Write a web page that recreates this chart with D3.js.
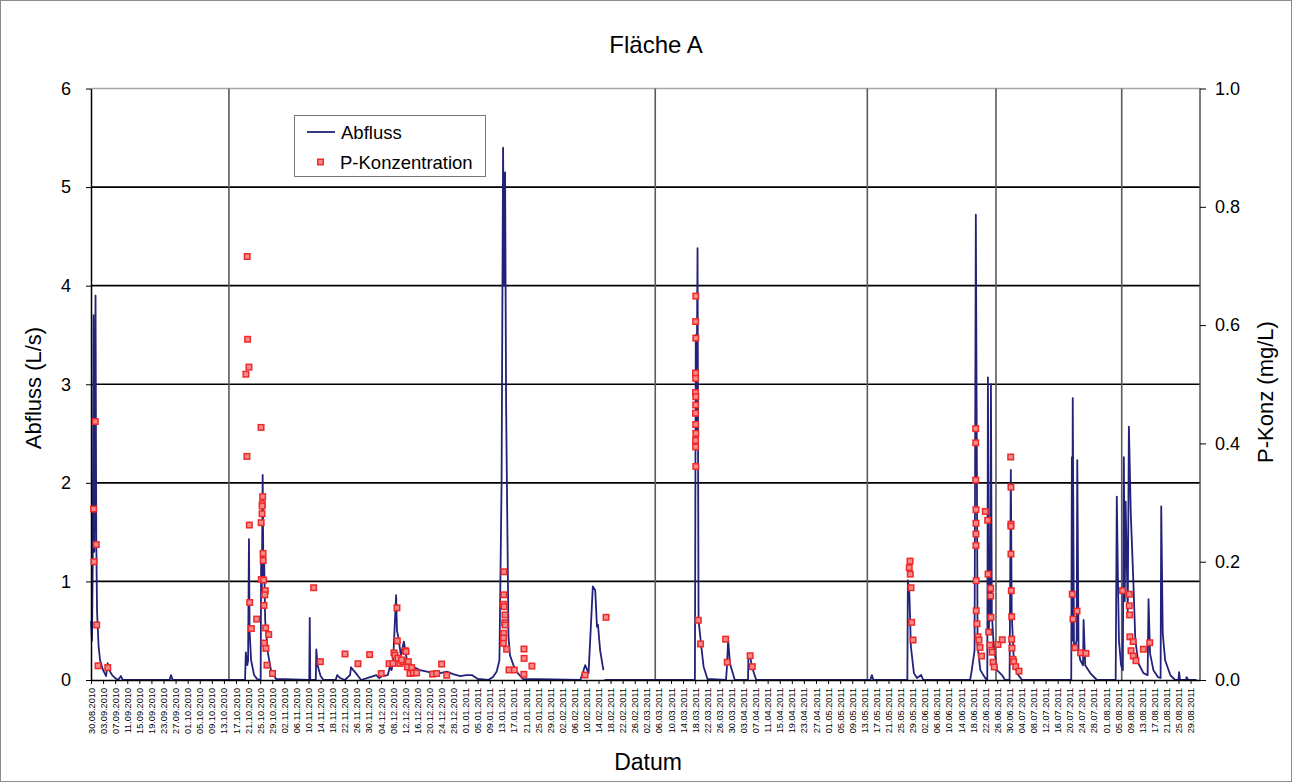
<!DOCTYPE html>
<html>
<head>
<meta charset="utf-8">
<script src="https://cdn.jsdelivr.net/npm/d3@7"></script>
<style>
  body { margin: 0; background: #fff; }
  svg text { font-family: "Liberation Sans", Arial, sans-serif; }
</style>
</head>
<body>
<script>
// Abfluss (L/s), 15-min series: [zeit, wert]
var abfluss = [
  ["2010-08-30T00",0.6],["2010-08-30T08",0.4],["2010-08-30T14",1.2],["2010-08-30T20",3.7],
  ["2010-08-31T02",1.3],["2010-08-31T06",2.0],["2010-08-31T12",3.9],["2010-08-31T18",1.4],
  ["2010-09-01T00",0.7],["2010-09-01T12",0.35],["2010-09-02T00",0.2],["2010-09-03T00",0.1],
  ["2010-09-04T00",0.04],["2010-09-04T12",0.17],["2010-09-05T00",0.1],["2010-09-06T00",0.05],
  ["2010-09-07T00",0.02],["2010-09-08T00",0.0],["2010-09-08T22",0.04],["2010-09-09T12",0.0],
  ["2010-09-25T00",0.0],["2010-09-25T12",0.05],["2010-09-26T00",0.0],
  ["2010-10-20T00",0.0],["2010-10-20T06",0.28],["2010-10-20T18",0.15],["2010-10-21T00",0.2],
  ["2010-10-21T07",1.43],["2010-10-21T12",0.5],["2010-10-22T00",0.2],["2010-10-23T00",0.05],
  ["2010-10-24T00",0.01],["2010-10-25T04",0.0],["2010-10-25T08",1.3],["2010-10-25T13",0.9],
  ["2010-10-25T20",2.08],["2010-10-26T02",1.0],["2010-10-26T08",1.2],["2010-10-26T16",0.6],
  ["2010-10-27T14",0.27],["2010-10-28T14",0.1],["2010-10-30T06",0.01],
  ["2010-11-10T06",0.0],["2010-11-10T10",0.63],["2010-11-10T14",0.0],["2010-11-12T10",0.0],
  ["2010-11-12T14",0.31],["2010-11-13T00",0.15],["2010-11-14T00",0.04],["2010-11-15T00",0.0],
  ["2010-11-19T00",0.0],["2010-11-19T12",0.05],["2010-11-20T12",0.02],["2010-11-22T00",0.0],
  ["2010-11-23T18",0.05],["2010-11-24T02",0.13],["2010-11-24T20",0.1],["2010-11-25T10",0.08],
  ["2010-11-26T10",0.04],["2010-11-27T10",0.0],["2010-11-30T10",0.03],["2010-12-02T10",0.05],
  ["2010-12-03T10",0.02],["2010-12-04T10",0.04],["2010-12-06T06",0.05],["2010-12-06T22",0.13],
  ["2010-12-07T12",0.1],["2010-12-08T00",0.18],["2010-12-09T00",0.86],["2010-12-09T07",0.5],
  ["2010-12-09T17",0.44],["2010-12-10T14",0.25],["2010-12-11T14",0.39],["2010-12-12T14",0.2],
  ["2010-12-14T14",0.135],["2010-12-16T22",0.1],["2010-12-19T05",0.085],["2010-12-21T05",0.07],
  ["2010-12-23T14",0.07],["2010-12-25T19",0.085],["2010-12-27T22",0.06],["2010-12-30T05",0.04],
  ["2011-01-01T05",0.05],["2011-01-03T02",0.05],["2011-01-05T02",0.01],["2011-01-08T12",0.0],
  ["2011-01-10T02",0.03],["2011-01-11T07",0.085],["2011-01-12T05",0.2],["2011-01-12T22",2.0],
  ["2011-01-13T10",5.4],["2011-01-13T18",4.0],["2011-01-14T02",5.15],["2011-01-14T10",2.8],
  ["2011-01-15T05",0.44],["2011-01-15T17",0.25],["2011-01-17T10",0.1],["2011-01-20T00",0.01],
  ["2011-02-08T00",0.0],["2011-02-08T19",0.07],["2011-02-09T14",0.15],["2011-02-10T17",0.07],
  ["2011-02-11T19",0.74],["2011-02-12T03",0.95],["2011-02-12T22",0.91],["2011-02-13T12",0.54],
  ["2011-02-13T20",0.56],["2011-02-14T13",0.3],["2011-02-15T15",0.1],["2011-02-15T16",null],
  ["2011-02-16T00",0.0],["2011-03-17T22",0.0],["2011-03-18T05",3.5],["2011-03-18T10",2.5],
  ["2011-03-18T19",4.38],["2011-03-19T03",0.61],["2011-03-19T22",0.37],["2011-03-20T19",0.135],
  ["2011-03-22T02",0.01],["2011-03-28T05",0.0],["2011-03-28T12",0.12],["2011-03-28T22",0.41],
  ["2011-03-29T12",0.17],["2011-03-31T03",0.0],["2011-04-04T12",0.0],["2011-04-04T15",0.24],
  ["2011-04-05T05",0.24],["2011-04-05T19",0.135],["2011-04-07T05",0.0],
  ["2011-05-15T00",0.0],["2011-05-15T12",0.05],["2011-05-16T00",0.0],["2011-05-27T06",0.0],
  ["2011-05-27T10",1.01],["2011-05-27T22",0.88],["2011-05-28T10",0.34],["2011-05-29T10",0.07],
  ["2011-05-30T10",0.02],["2011-05-31T20",0.05],["2011-06-01T12",0.0],
  ["2011-06-17T00",0.0],["2011-06-17T12",0.085],["2011-06-18T12",0.3],["2011-06-18T22",4.72],
  ["2011-06-19T12",0.34],["2011-06-20T10",0.1],["2011-06-22T00",0.02],["2011-06-22T17",0.0],
  ["2011-06-22T22",3.07],["2011-06-23T06",0.5],["2011-06-23T12",1.3],["2011-06-23T16",0.6],
  ["2011-06-23T22",3.0],["2011-06-24T05",0.68],["2011-06-24T19",0.37],["2011-06-25T22",0.1],
  ["2011-06-27T14",0.05],["2011-06-28T14",0.0],["2011-06-30T02",0.0],["2011-06-30T12",2.13],
  ["2011-06-30T19",0.68],["2011-07-01T10",0.24],["2011-07-02T12",0.07],["2011-07-04T05",0.0],
  ["2011-07-20T12",0.0],["2011-07-20T17",2.26],["2011-07-20T20",0.4],["2011-07-21T00",2.86],
  ["2011-07-21T10",0.3],["2011-07-22T07",0.4],["2011-07-22T12",2.23],["2011-07-22T22",0.3],
  ["2011-07-23T12",0.2],["2011-07-24T10",0.15],["2011-07-24T14",0.61],["2011-07-25T03",0.15],
  ["2011-07-26T19",0.07],["2011-07-29T00",0.0],["2011-08-04T05",0.0],["2011-08-04T14",1.86],
  ["2011-08-04T22",1.11],["2011-08-05T07",0.4],["2011-08-06T00",0.15],["2011-08-06T14",0.1],
  ["2011-08-06T22",2.26],["2011-08-07T05",0.8],["2011-08-07T12",1.81],["2011-08-07T19",1.35],
  ["2011-08-08T05",0.7],["2011-08-08T14",2.57],["2011-08-09T05",1.69],["2011-08-10T02",0.98],
  ["2011-08-10T17",0.41],["2011-08-11T17",0.17],["2011-08-13T10",0.07],["2011-08-14T19",0.05],
  ["2011-08-15T02",0.82],["2011-08-15T14",0.27],["2011-08-16T17",0.1],["2011-08-18T05",0.03],
  ["2011-08-19T02",0.02],["2011-08-19T07",1.76],["2011-08-19T19",0.47],["2011-08-20T14",0.2],
  ["2011-08-22T07",0.05],["2011-08-23T22",0.0],["2011-08-25T00",0.0],["2011-08-25T05",0.08],
  ["2011-08-25T12",0.0],["2011-08-27T12",0.0],["2011-08-27T17",0.03],["2011-08-28T05",0.0],
  ["2011-08-31T00",0.0]
];

// P-Konzentration (mg/L) samples: [zeit, wert]
var pKonz = [
  ["2010-08-31T10",0.437],["2010-08-30T21",0.289],["2010-08-31T18",0.229],["2010-08-31T00",0.200],
  ["2010-08-31T21",0.093],["2010-09-01T08",0.024],["2010-09-04T13",0.021],
  ["2010-10-20T17",0.716],["2010-10-20T20",0.576],["2010-10-21T07",0.529],["2010-10-20T07",0.517],
  ["2010-10-25T07",0.427],["2010-10-20T15",0.378],["2010-10-25T20",0.310],["2010-10-25T17",0.298],
  ["2010-10-25T16",0.294],["2010-10-25T15",0.281],["2010-10-25T08",0.266],["2010-10-21T10",0.262],
  ["2010-10-25T23",0.214],["2010-10-26T00",0.202],["2010-10-25T09",0.170],["2010-10-26T04",0.169],
  ["2010-10-26T17",0.151],["2010-10-26T12",0.144],["2010-10-21T13",0.131],["2010-10-26T06",0.126],
  ["2010-10-23T20",0.103],["2010-10-22T02",0.087],["2010-10-26T20",0.088],["2010-10-27T20",0.077],
  ["2010-10-26T09",0.0625],["2010-10-26T22",0.0535],["2010-10-27T06",0.025],["2010-10-29T02",0.011],
  ["2010-11-11T17",0.156],["2010-11-13T22",0.031],["2010-11-22T02",0.044],["2010-11-26T09",0.0275],
  ["2010-11-30T06",0.043],["2010-12-04T02",0.011],["2010-12-06T16",0.0275],["2010-12-07T23",0.028],
  ["2010-12-08T07",0.046],["2010-12-09T07",0.122],["2010-12-09T10",0.066],["2010-12-08T15",0.042],
  ["2010-12-09T15",0.037],["2010-12-10T05",0.028],["2010-12-11T07",0.031],["2010-12-12T01",0.0495],
  ["2010-12-12T07",0.048],["2010-12-10T20",0.034],["2010-12-13T01",0.031],["2010-12-12T17",0.022],
  ["2010-12-14T04",0.021],["2010-12-13T14",0.011],["2010-12-14T17",0.012],["2010-12-15T19",0.012],
  ["2010-12-21T02",0.010],["2010-12-22T10",0.011],["2010-12-24T02",0.027],["2010-12-25T18",0.008],
  ["2011-01-13T17",0.183],["2011-01-13T16",0.144],["2011-01-13T12",0.128],["2011-01-13T18",0.124],
  ["2011-01-14T01",0.110],["2011-01-13T23",0.097],["2011-01-14T02",0.093],["2011-01-13T15",0.079],
  ["2011-01-13T14",0.071],["2011-01-13T12",0.062],["2011-01-14T14",0.052],["2011-01-15T09",0.017],
  ["2011-01-17T03",0.017],["2011-01-20T08",0.0524],["2011-01-20T09",0.0366],["2011-01-22T23",0.0236],
  ["2011-01-20T07",0.0096],["2011-02-09T13",0.0084],["2011-02-16T12",0.106],
  ["2011-03-18T05",0.649],["2011-03-18T04",0.606],["2011-03-18T05",0.578],["2011-03-18T03",0.519],
  ["2011-03-18T04",0.510],["2011-03-18T03",0.486],["2011-03-18T05",0.479],["2011-03-18T04",0.465],
  ["2011-03-18T03",0.451],["2011-03-18T04",0.432],["2011-03-18T05",0.417],["2011-03-18T03",0.405],
  ["2011-03-18T04",0.394],["2011-03-18T05",0.361],["2011-03-19T01",0.101],["2011-03-19T19",0.061],
  ["2011-03-28T02",0.069],["2011-03-28T15",0.030],["2011-04-05T05",0.041],["2011-04-05T22",0.0225],
  ["2011-05-28T03",0.201],["2011-05-27T21",0.190],["2011-05-28T05",0.179],["2011-05-28T11",0.156],
  ["2011-05-28T16",0.0975],["2011-05-29T03",0.0676],
  ["2011-06-18T21",0.425],["2011-06-18T21",0.401],["2011-06-18T21",0.338],["2011-06-18T23",0.288],
  ["2011-06-18T23",0.265],["2011-06-18T23",0.247],["2011-06-18T23",0.2275],["2011-06-19T01",0.168],
  ["2011-06-19T01",0.117],["2011-06-19T07",0.095],["2011-06-19T15",0.073],["2011-06-19T23",0.0676],
  ["2011-06-20T07",0.055],["2011-06-20T20",0.0405],["2011-06-22T01",0.285],["2011-06-22T20",0.270],
  ["2011-06-22T23",0.179],["2011-06-23T20",0.155],["2011-06-23T20",0.142],["2011-06-23T22",0.106],
  ["2011-06-23T04",0.081],["2011-06-23T14",0.059],["2011-06-24T07",0.047],["2011-06-24T15",0.030],
  ["2011-06-25T00",0.022],["2011-06-26T06",0.060],["2011-06-27T16",0.068],
  ["2011-06-30T11",0.377],["2011-06-30T13",0.326],["2011-06-30T13",0.2635],["2011-06-30T13",0.260],
  ["2011-06-30T13",0.213],["2011-06-30T16",0.151],["2011-06-30T19",0.107],["2011-06-30T19",0.069],
  ["2011-06-30T21",0.054],["2011-07-01T05",0.035],["2011-07-01T11",0.031],["2011-07-02T03",0.0225],
  ["2011-07-03T05",0.015],
  ["2011-07-20T20",0.145],["2011-07-21T02",0.103],["2011-07-22T10",0.1166],["2011-07-21T17",0.0546],
  ["2011-07-23T15",0.046],["2011-07-25T09",0.045],
  ["2011-08-06T12",0.151],["2011-08-08T17",0.145],["2011-08-08T17",0.1255],["2011-08-08T20",0.110],
  ["2011-08-08T22",0.073],["2011-08-10T00",0.065],["2011-08-09T07",0.0495],["2011-08-10T01",0.0405],
  ["2011-08-10T22",0.0326],["2011-08-13T09",0.052],["2011-08-15T12",0.063]
];

// vertical separator lines in the plot
var trennlinien = ["2010-10-14T16","2011-03-04T19","2011-05-14T00","2011-06-25T14","2011-08-06T05"];

var ticksLinks = [0,1,2,3,4,5,6],
  ticksRechts = [0,0.2,0.4,0.6,0.8,1.0];

var titel = "Fläche A";

////////////
// setup
////////////
var W = 1293, H = 783;
var plotL = 91, plotR = 1200, plotT = 88.5, plotB = 680;
var parseT = d3.timeParse("%Y-%m-%dT%H"),
  fmtTick = d3.timeFormat("%d.%m.%Y");
var navy = "#22227a", rot = "#ee2a2a", rosa = "#f48a8a";

var svg = d3.select("body").append("svg")
  .attr("width", W).attr("height", H);

svg.append("rect")
  .attr("x", 0.5).attr("y", 0.5).attr("width", W - 2).attr("height", H - 2)
  .attr("fill", "#fff").attr("stroke", "#8c8c8c");

var x = d3.scaleTime()
  .domain([parseT("2010-08-30T00"), parseT("2011-09-01T03")])
  .range([plotL, plotR]);
var yL = d3.scaleLinear().domain([0, 6]).range([plotB, plotT]);
var yR = d3.scaleLinear().domain([0, 1]).range([plotB, plotT]);

// gridlines
svg.append("g").selectAll("line")
  .data(ticksLinks.filter(function(d) { return d > 0 && d < 6; })).enter()
  .append("line")
  .attr("x1", plotL).attr("x2", plotR)
  .attr("y1", function(d) { return yL(d); })
  .attr("y2", function(d) { return yL(d); })
  .style("stroke", "#000").style("stroke-width", 1.6);

// top and right frame
svg.append("line")
  .attr("x1", plotL).attr("x2", plotR).attr("y1", plotT).attr("y2", plotT)
  .style("stroke", "#a6a6a6").style("stroke-width", 1.5);
svg.append("line")
  .attr("x1", plotR).attr("x2", plotR).attr("y1", plotT).attr("y2", plotB)
  .style("stroke", "#555").style("stroke-width", 1.5);

// separators
svg.append("g").selectAll("line")
  .data(trennlinien).enter()
  .append("line")
  .attr("x1", function(d) { return x(parseT(d)); })
  .attr("x2", function(d) { return x(parseT(d)); })
  .attr("y1", plotT).attr("y2", plotB)
  .style("stroke", "#5a5a5a").style("stroke-width", 1.6);

// Abfluss line
var line = d3.line()
  .defined(function(d) { return d[1] !== null; })
  .x(function(d) { return x(parseT(d[0])); })
  .y(function(d) { return yL(d[1]); });
svg.append("path")
  .datum(abfluss)
  .attr("d", line)
  .attr("fill", "none")
  .style("stroke", navy).style("stroke-width", 1.8)
  .style("stroke-linejoin", "round");

// axes
var ticksX = d3.timeDay.every(1).range(parseT("2010-08-30T00"), parseT("2011-08-30T12"))
  .filter(function(d, i) { return i % 4 === 0; });

var gX = svg.append("g")
  .attr("transform", "translate(0," + plotB + ")")
  .call(d3.axisBottom(x).tickValues(ticksX).tickFormat(fmtTick).tickSize(4).tickSizeOuter(0));
gX.select(".domain").style("stroke", "#000").style("stroke-width", 1.5);
gX.selectAll(".tick line").style("stroke", "#000");
gX.selectAll(".tick text")
  .style("font-size", "9.2px")
  .style("font-family", "'Liberation Sans', Arial, sans-serif")
  .attr("fill", "#000")
  .attr("transform", "rotate(-90)")
  .attr("x", -8).attr("y", 0).attr("dy", "0.33em")
  .style("text-anchor", "end");

var gL = svg.append("g")
  .attr("transform", "translate(" + plotL + ",0)")
  .call(d3.axisLeft(yL).tickValues(ticksLinks).tickFormat(d3.format("d")).tickSize(5).tickPadding(15).tickSizeOuter(0));
gL.select(".domain").style("stroke", "#000").style("stroke-width", 1.5);
gL.selectAll(".tick line").style("stroke", "#000");
gL.selectAll(".tick text").style("font-size", "18px")
  .style("font-family", "'Liberation Sans', Arial, sans-serif").attr("fill", "#000");

var gR = svg.append("g")
  .attr("transform", "translate(" + plotR + ",0)")
  .call(d3.axisRight(yR).tickValues(ticksRechts).tickFormat(d3.format(".1f")).tickSize(6).tickPadding(9).tickSizeOuter(0));
gR.select(".domain").remove();
gR.selectAll(".tick line").style("stroke", "#000");
gR.selectAll(".tick text").style("font-size", "18px")
  .style("font-family", "'Liberation Sans', Arial, sans-serif").attr("fill", "#000");

// P-Konzentration markers
var mk = 5.5;
svg.append("g").selectAll("rect")
  .data(pKonz).enter()
  .append("rect")
  .attr("x", function(d) { return x(parseT(d[0])) - mk / 2; })
  .attr("y", function(d) { return yR(d[1]) - mk / 2; })
  .attr("width", mk).attr("height", mk)
  .style("fill", rosa).style("stroke", rot).style("stroke-width", 1.5);

// titles
svg.append("text")
  .attr("x", 656).attr("y", 53)
  .style("text-anchor", "middle").style("font-size", "24px")
  .text(titel);
svg.append("text")
  .attr("x", 648).attr("y", 770)
  .style("text-anchor", "middle").style("font-size", "23px")
  .text("Datum");
svg.append("text")
  .attr("transform", "rotate(-90)")
  .attr("x", -388).attr("y", 41)
  .style("text-anchor", "middle").style("font-size", "22px")
  .text("Abfluss (L/s)");
svg.append("text")
  .attr("transform", "rotate(-90)")
  .attr("x", -392).attr("y", 1273)
  .style("text-anchor", "middle").style("font-size", "22px")
  .text("P-Konz (mg/L)");

// legend
var leg = svg.append("g");
leg.append("rect")
  .attr("x", 294.5).attr("y", 115.5).attr("width", 191).attr("height", 61)
  .attr("fill", "#fff").style("stroke", "#777").style("stroke-width", 1);
leg.append("line")
  .attr("x1", 307).attr("x2", 335).attr("y1", 132).attr("y2", 132)
  .style("stroke", navy).style("stroke-width", 1.8);
leg.append("text")
  .attr("x", 341).attr("y", 138.5).style("font-size", "18.5px").text("Abfluss");
leg.append("rect")
  .attr("x", 320.5 - mk / 2).attr("y", 162 - mk / 2).attr("width", mk).attr("height", mk)
  .style("fill", rosa).style("stroke", rot).style("stroke-width", 1.5);
leg.append("text")
  .attr("x", 340).attr("y", 168.5).style("font-size", "18.5px").text("P-Konzentration");
</script>
</body>
</html>
